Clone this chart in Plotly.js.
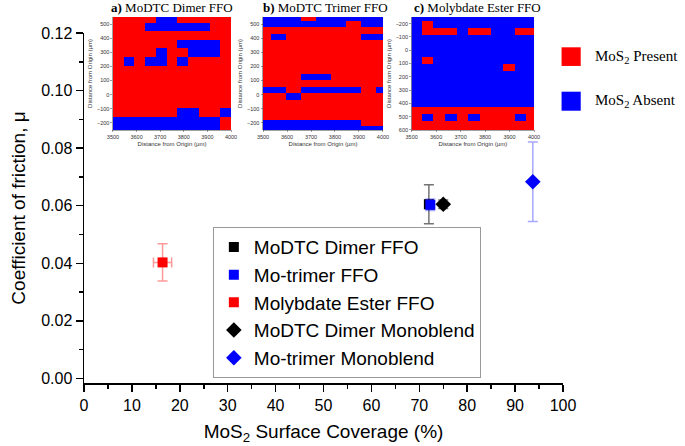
<!DOCTYPE html>
<html><head><meta charset="utf-8">
<script src="https://cdn.plot.ly/plotly-3.0.1.min.js"></script>
<style>html,body{margin:0;padding:0;background:#fff}#chart{width:685px;height:446px}</style>
</head><body><div id="chart"></div>
<script>
// ---- main scatter data ----
const seriesNames = ['MoDTC Dimer FFO', 'Mo-trimer FFO', 'Molybdate Ester FFO', 'MoDTC Dimer Monoblend', 'Mo-trimer Monoblend'];
const coverage    = [72.0, 72.3, 16.4, 75.0, 93.7];
const coverageErr = [0.8, 0.5, 1.9, 0, 0];
const cof         = [0.0605, 0.0603, 0.0403, 0.0605, 0.0683];
const cofErr      = [0.0068, 0.0020, 0.0065, 0.0015, 0.0138];

// ---- inset maps (1 = MoS2 present, 0 = absent) ----
const mapAX = [3522.7, 3568.2, 3613.6, 3659.1, 3704.5, 3750.0, 3795.5, 3840.9, 3886.4, 3931.8, 3977.3];
const mapAY = [-246.75, -186.25, -125.75, -65.25, -4.75, 55.75, 116.25, 176.75, 237.25, 297.75, 358.25, 418.75, 479.25, 539.75];
const mapAZ = [
  [0,0,0,0,0,0,0,0,0,0,1],
  [0,0,0,0,0,0,0,0,0,0,1],
  [1,1,1,1,1,1,0,0,1,1,0],
  [1,1,1,1,1,1,1,1,1,1,1],
  [1,1,1,1,1,1,1,1,1,1,1],
  [1,1,1,1,1,1,1,1,1,1,1],
  [1,1,1,1,1,1,1,1,1,1,1],
  [1,1,1,1,1,1,1,1,1,1,1],
  [1,0,1,0,0,1,0,1,1,1,1],
  [1,1,1,1,0,1,1,0,0,0,1],
  [1,1,1,1,1,1,0,0,0,0,1],
  [1,1,1,1,1,1,1,1,1,1,1],
  [1,1,1,0,0,0,0,0,0,1,1],
  [1,1,1,1,0,0,1,1,1,1,1]
];
const mapBX = [3500, 3562.5, 3625, 3687.5, 3750, 3812.5, 3875, 3937.5, 4000];
const mapBY = [-251.5, -204.5, -157.5, -110.5, -63.5, -16.5, 30.5, 77.5, 124.5, 171.5, 218.5, 265.5, 312.5, 359.5, 406.5, 453.5, 500.5, 547.5];
const mapBZ = [
  [0,0,0,0,0,0,0,0,0],
  [0,0,0,0,0,0,0,1,1],
  [1,1,1,1,1,1,1,1,1],
  [1,1,1,1,1,1,1,1,1],
  [1,1,1,1,1,1,1,1,1],
  [1,1,0,1,1,1,1,1,1],
  [0,0,1,0,0,0,0,1,0],
  [1,1,1,1,1,1,1,1,1],
  [1,1,1,0,0,1,1,1,1],
  [1,1,1,1,1,1,1,1,1],
  [1,1,1,1,1,1,1,1,1],
  [1,1,1,1,1,1,1,1,1],
  [1,1,1,1,1,1,1,1,1],
  [1,1,1,1,1,1,1,1,1],
  [1,0,1,1,1,1,1,0,0],
  [1,1,1,1,1,1,1,1,1],
  [0,0,0,0,0,0,1,0,0],
  [0,0,0,1,0,0,0,0,0]
];
const mapCX = [3517, 3564.6, 3612.2, 3659.8, 3707.4, 3755, 3802.6, 3850.2, 3897.8, 3945.4, 3993];
const mapCY = [-247.7, -193.9, -140.1, -86.3, -32.5, 21.3, 75.1, 128.9, 182.7, 236.5, 290.3, 344.1, 397.9, 451.7, 505.5, 559.3, 613.1];
const mapCZ = [
  [0,0,0,0,0,0,0,0,0,0,0],
  [0,1,0,0,0,0,0,0,0,0,0],
  [0,1,1,1,0,1,1,0,0,1,1],
  [0,0,0,0,0,0,0,0,0,0,0],
  [0,0,0,0,0,0,0,0,0,0,0],
  [0,0,0,0,0,0,0,0,0,0,0],
  [0,1,0,0,0,0,0,0,0,0,0],
  [0,0,0,0,0,0,0,0,1,0,0],
  [0,0,0,0,0,0,0,0,0,0,0],
  [0,0,0,0,0,0,0,0,0,0,0],
  [0,0,0,0,0,0,0,0,0,0,0],
  [0,0,0,0,0,0,0,0,0,0,0],
  [0,0,0,0,0,0,0,0,0,0,0],
  [1,1,1,1,1,1,1,1,1,1,1],
  [1,0,1,0,1,0,1,1,1,0,1],
  [1,1,1,1,1,1,1,1,1,1,1],
  [1,1,1,1,1,1,1,1,1,1,1]
];
const insetTitles = ['<b>a)</b> MoDTC Dimer FFO', '<b>b)</b> MoDTC Trimer FFO', '<b>c)</b> Molybdate Ester FFO'];
const mapLegendLabels = ['MoS<sub>2</sub> Present', 'MoS<sub>2</sub> Absent'];

// ---- styling ----
const markerColors = ['#000000', '#0000FF', '#FF0000', '#000000', '#0000FF'];
const errColors = ['rgba(0,0,0,0.55)', 'rgba(0,0,255,0.35)', 'rgba(255,0,0,0.4)', 'rgba(0,0,0,0.55)', 'rgba(0,0,255,0.35)'];
const symbols = ['square', 'square', 'square', 'diamond', 'diamond'];
const sizes = [10, 10, 10, 12, 12];
const SANS = 'Liberation Sans, Arial, sans-serif';
const SERIF = 'Liberation Serif, Times New Roman, serif';

const traces = [];
const mapColors = [[0, '#0000FF'], [1, '#FF0000']];
[[mapAX, mapAY, mapAZ, 'x2', 'y2'], [mapBX, mapBY, mapBZ, 'x3', 'y3'], [mapCX, mapCY, mapCZ, 'x4', 'y4']].forEach(m => {
  traces.push({type: 'heatmap', x: m[0], y: m[1], z: m[2], xaxis: m[3], yaxis: m[4],
    colorscale: mapColors, zmin: 0, zmax: 1, showscale: false, showlegend: false, hoverinfo: 'skip'});
});
seriesNames.forEach((name, i) => {
  traces.push({
    type: 'scatter', mode: 'markers', name: name,
    x: [coverage[i]], y: [cof[i]],
    xaxis: 'x', yaxis: 'y', legendgroup: 'g' + i,
    marker: {symbol: symbols[i], size: sizes[i], color: markerColors[i], line: {width: 0}},
    error_y: {type: 'data', array: [cofErr[i]], visible: true, color: errColors[i], thickness: 1.5, width: 5},
    error_x: {type: 'data', array: [coverageErr[i]], visible: coverageErr[i] > 0, color: errColors[i], thickness: 1.5, width: 5}
  });
});

const mainAxis = {
  showline: true, linecolor: '#000', linewidth: 1.5, mirror: false,
  ticks: 'outside', ticklen: 7, tickwidth: 1.5, tickcolor: '#000',
  showgrid: false, zeroline: false,
  tickfont: {family: SANS, size: 16, color: '#000'}
};
function insetX(domain, anchor) {
  return {domain: domain, anchor: anchor, range: [3500, 4000], tick0: 3500, dtick: 100,
    showline: true, linecolor: '#444', linewidth: 0.5, ticks: 'outside', ticklen: 2, tickwidth: 0.5, tickcolor: '#444',
    showgrid: false, zeroline: false, tickfont: {family: SANS, size: 5.5, color: '#333'},
    title: {text: 'Distance from Origin (µm)', font: {family: SANS, size: 6, color: '#333'}, standoff: 2}};
}
function insetY(domain, anchor, range) {
  return {domain: domain, anchor: anchor, range: range, dtick: 100,
    showline: true, linecolor: '#444', linewidth: 0.5, ticks: 'outside', ticklen: 2, tickwidth: 0.5, tickcolor: '#444',
    showgrid: false, zeroline: false, tickfont: {family: SANS, size: 5.5, color: '#333'},
    title: {text: 'Distance from Origin (µm)', font: {family: SANS, size: 6, color: '#333'}, standoff: 3}};
}

const insetYDom = [0.6783, 0.9812];
const layout = {
  width: 685, height: 446,
  margin: {l: 84, r: 122, t: 10, b: 63},
  paper_bgcolor: '#fff', plot_bgcolor: 'rgba(0,0,0,0)',
  font: {family: SANS, color: '#000'},
  xaxis: Object.assign({}, mainAxis, {range: [0, 100], domain: [0, 1], dtick: 10, tick0: 0, anchor: 'y',
    minor: {dtick: 5, ticks: 'outside', ticklen: 4, tickwidth: 1.5, tickcolor: '#000'},
    title: {text: 'MoS<sub>2</sub> Surface Coverage (%)', font: {family: SANS, size: 19, color: '#000'}, standoff: 12}}),
  yaxis: Object.assign({}, mainAxis, {range: [-0.0016, 0.12], domain: [0, 0.9383], dtick: 0.02, tick0: 0, tickformat: '.2f', anchor: 'x',
    minor: {dtick: 0.01, ticks: 'outside', ticklen: 4, tickwidth: 1.5, tickcolor: '#000'},
    title: {text: 'Coefficient of friction, μ', font: {family: SANS, size: 19, color: '#000'}, standoff: 10}}),
  xaxis2: insetX([0.0605, 0.3069], 'y2'),
  yaxis2: insetY(insetYDom, 'x2', [-250, 550]),
  xaxis3: insetX([0.3737, 0.6242], 'y3'),
  yaxis3: insetY(insetYDom, 'x3', [-250, 550]),
  xaxis4: insetX([0.684, 0.9395], 'y4'),
  yaxis4: insetY(insetYDom, 'x4', [600, -250]),
  showlegend: true,
  legend: {x: 0.269, y: 0.418, xanchor: 'left', yanchor: 'top', bgcolor: '#fff', bordercolor: '#999', borderwidth: 1,
    font: {family: SANS, size: 19, color: '#000'}, tracegroupgap: 0, itemsizing: 'trace'},
  shapes: [
    {type: 'rect', xref: 'paper', yref: 'paper', x0: 0.997, x1: 1.037, y0: 0.850, y1: 0.900, fillcolor: '#FF0000', line: {width: 0}},
    {type: 'rect', xref: 'paper', yref: 'paper', x0: 0.997, x1: 1.037, y0: 0.730, y1: 0.781, fillcolor: '#0000FF', line: {width: 0}}
  ],
  annotations: [
    {text: mapLegendLabels[0], xref: 'paper', yref: 'paper', x: 1.0626, y: 0.874, xanchor: 'left', yanchor: 'middle', showarrow: false, font: {family: SERIF, size: 15, color: '#000'}},
    {text: mapLegendLabels[1], xref: 'paper', yref: 'paper', x: 1.0626, y: 0.756, xanchor: 'left', yanchor: 'middle', showarrow: false, font: {family: SERIF, size: 15, color: '#000'}},
    {text: insetTitles[0], xref: 'paper', yref: 'paper', x: 0.1837, y: 1.0054, xanchor: 'center', yanchor: 'middle', showarrow: false, font: {family: SERIF, size: 13, color: '#000'}},
    {text: insetTitles[1], xref: 'paper', yref: 'paper', x: 0.5049, y: 1.0054, xanchor: 'center', yanchor: 'middle', showarrow: false, font: {family: SERIF, size: 13, color: '#000'}},
    {text: insetTitles[2], xref: 'paper', yref: 'paper', x: 0.8205, y: 1.0054, xanchor: 'center', yanchor: 'middle', showarrow: false, font: {family: SERIF, size: 13, color: '#000'}}
  ]
};
Plotly.newPlot('chart', traces, layout, {displayModeBar: false, staticPlot: true});
</script></body></html>
